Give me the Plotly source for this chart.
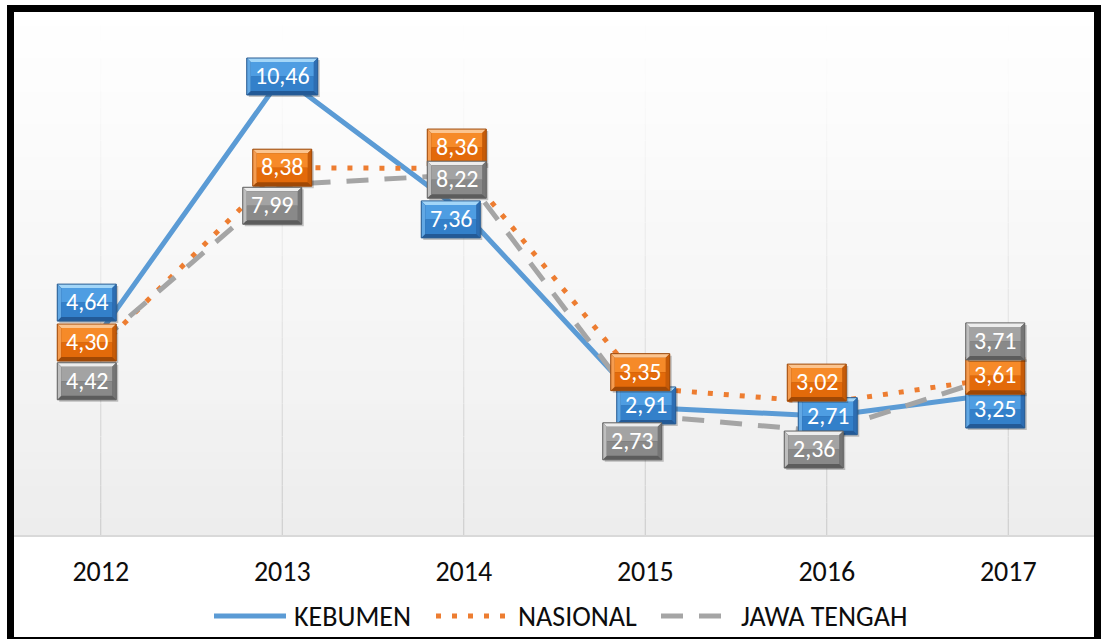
import plotly.graph_objects as go

# ---- data -------------------------------------------------------------
years = ["2012", "2013", "2014", "2015", "2016", "2017"]
kebumen = [4.64, 10.46, 7.36, 2.91, 2.71, 3.25]
nasional = [4.30, 8.38, 8.36, 3.35, 3.02, 3.61]
jawa_tengah = [4.42, 7.99, 8.22, 2.73, 2.36, 3.71]
series_names = ["KEBUMEN", "NASIONAL", "JAWA TENGAH"]

# ---- layout constants ---------------------------------------------------
W, H = 1101, 639
M_L, M_R, M_T, M_B = 10, 2, 9, 104
PW, PH = W - M_L - M_R, H - M_T - M_B
Y_MAX = 12
FONT = "Carlito, Lato, sans-serif"

# data-label offsets from each point, in px (dx to the right, dy upward)
label_offsets = {
    "KEBUMEN": [(-14, 29), (0, 0), (-13, -7), (1, 2), (1, 0), (-13, -17)],
    "NASIONAL": [(-14, 4), (0, 0), (-7, 21), (-5, 16), (-10, 20), (-13, 1)],
    "JAWA TENGAH": [(-14, -40), (-10, -21), (-7, -5), (-13, -26), (-13, -18), (-13, 31)],
}

styles = {
    "KEBUMEN": dict(line="#5B9BD5", dash="solid",
                    face_top="#4E9DE2", face_bot="#3380CA", top="#A3D6F8",
                    left="#62A8E4", right="#2D6DB2", bottom="#235A97", edge="#2A5D93"),
    "NASIONAL": dict(line="#ED7D31", dash="5px,11px",
                     face_top="#F68A28", face_bot="#E36A0A", top="#FBC48F",
                     left="#F59C50", right="#C65B08", bottom="#A04805", edge="#9E4A0A"),
    "JAWA TENGAH": dict(line="#A5A5A5", dash="22px,16px",
                        face_top="#A3A3A3", face_bot="#898989", top="#EDEDED",
                        left="#BEBEBE", right="#757575", bottom="#5C5C5C", edge="#636363"),
}

values = {"KEBUMEN": kebumen, "NASIONAL": nasional, "JAWA TENGAH": jawa_tengah}
xs = list(range(len(years)))


def fmt(v):
    return f"{v:.2f}".replace(".", ",")


def px_to_paper_x(px):
    return (px - M_L) / PW


def px_to_paper_y(py):
    return (M_T + PH - py) / PH


fig = go.Figure()
shapes = []
annotations = []

# ---- plot-area gradient and fading category gridlines ----------------
N_BANDS = 32
for i in range(N_BANDS):
    t0, t1 = i / N_BANDS, (i + 1) / N_BANDS
    tm = (t0 + t1) / 2
    c = int(round(236 + 19 * tm ** 0.8))
    shapes.append(dict(type="rect", xref="paper", yref="paper", x0=0, x1=1,
                       y0=t0, y1=t1 + 0.002, layer="below", line=dict(width=0),
                       fillcolor=f"rgb({c},{c},{c})"))
    a = 0.7 * (1 - tm) ** 1.4
    for x in xs:
        shapes.append(dict(type="line", xref="x", yref="paper", x0=x, x1=x,
                           y0=t0, y1=t1, layer="below",
                           line=dict(color=f"rgba(185,185,185,{a:.3f})", width=1)))

# ---- series lines -----------------------------------------------------
for name in series_names:
    st = styles[name]
    fig.add_trace(go.Scatter(x=xs, y=values[name], mode="lines", name=name,
                             showlegend=False,
                             line=dict(color=st["line"], width=5, dash=st["dash"])))


# ---- bevelled data labels ------------------------------------------------
def label_shapes(x, y, dx, dy, w, h, st):
    b = 4
    L, R, T, B = dx - w / 2, dx + w / 2, dy + h / 2, dy - h / 2
    common = dict(xref="x", yref="y", xsizemode="pixel", ysizemode="pixel",
                  xanchor=x, yanchor=y, layer="above")
    out = []
    # soft shadow
    out.append(dict(type="rect", x0=L + 2, x1=R + 2, y0=B - 2, y1=T - 2,
                    fillcolor="rgba(0,0,0,0.22)", line=dict(width=0), **common))
    # base (bottom bevel colour)
    out.append(dict(type="rect", x0=L, x1=R, y0=B, y1=T,
                    fillcolor=st["bottom"], line=dict(width=0), **common))

    def poly(pts, col):
        p = "M " + " L ".join(f"{px},{py}" for px, py in pts) + " Z"
        return dict(type="path", path=p, fillcolor=col, line=dict(width=0), **common)

    out.append(poly([(L, T), (R, T), (R - b, T - b), (L + b, T - b)], st["top"]))
    out.append(poly([(L, T), (L + b, T - b), (L + b, B + b), (L, B)], st["left"]))
    out.append(poly([(R, T), (R, B), (R - b, B + b), (R - b, T - b)], st["right"]))
    mid = (T + B) / 2
    out.append(dict(type="rect", x0=L + b, x1=R - b, y0=mid, y1=T - b,
                    fillcolor=st["face_top"], line=dict(width=0), **common))
    out.append(dict(type="rect", x0=L + b, x1=R - b, y0=B + b, y1=mid,
                    fillcolor=st["face_bot"], line=dict(width=0), **common))
    out.append(dict(type="rect", x0=L, x1=R, y0=B, y1=T,
                    fillcolor="rgba(0,0,0,0)", line=dict(color=st["edge"], width=1),
                    **common))
    return out


for name in series_names:
    st = styles[name]
    for x, v, (dx, dy) in zip(xs, values[name], label_offsets[name]):
        txt = fmt(v)
        nd = sum(ch.isdigit() for ch in txt)
        w, h = 12 * nd + 23, 37
        shapes.extend(label_shapes(x, v, dx, dy, w, h, st))
        annotations.append(dict(x=x, y=v, xref="x", yref="y", text=txt,
                                showarrow=False, xshift=dx, yshift=dy + 1,
                                font=dict(family=FONT, size=24, color="white")))

# ---- legend drawn beneath the axis ------------------------------------
legend_y = px_to_paper_y(616)
legend_items = [
    ("KEBUMEN", 214, 286, 292),
    ("NASIONAL", 436, 507, 516),
    ("JAWA TENGAH", 661, 732, 739),
]
for name, s0, s1, tx in legend_items:
    st = styles[name]
    shapes.append(dict(type="line", xref="paper", yref="paper",
                       x0=px_to_paper_x(s0), x1=px_to_paper_x(s1),
                       y0=legend_y, y1=legend_y,
                       line=dict(color=st["line"], width=5, dash=st["dash"])))
    annotations.append(dict(x=px_to_paper_x(tx), y=legend_y, xref="paper", yref="paper",
                            text=name, showarrow=False, xanchor="left", yanchor="middle",
                            font=dict(family=FONT, size=28, color="#0D0D0D")))

# ---- outer frame ------------------------------------------------------------
shapes.append(dict(type="rect", xref="paper", yref="paper",
                   x0=px_to_paper_x(10.5), x1=px_to_paper_x(1097.5),
                   y0=px_to_paper_y(640.5), y1=px_to_paper_y(8.5),
                   line=dict(color="black", width=7), fillcolor="rgba(0,0,0,0)",
                   layer="above"))

fig.update_layout(
    width=W, height=H,
    margin=dict(l=M_L, r=M_R, t=M_T, b=M_B),
    paper_bgcolor="white", plot_bgcolor="white",
    showlegend=False,
    shapes=shapes, annotations=annotations,
    font=dict(family=FONT),
    xaxis=dict(range=[-0.5, len(years) - 0.5], tickmode="array", tickvals=xs,
               ticktext=years, showgrid=False, zeroline=False,
               showline=True, linecolor="#D9D9D9", linewidth=2,
               ticks="", ticklabelstandoff=10,
               tickfont=dict(family=FONT, size=28, color="#0D0D0D")),
    yaxis=dict(range=[0, Y_MAX], showgrid=False, zeroline=False,
               showticklabels=False, showline=False, ticks=""),
)

fig.write_html("out.html")
